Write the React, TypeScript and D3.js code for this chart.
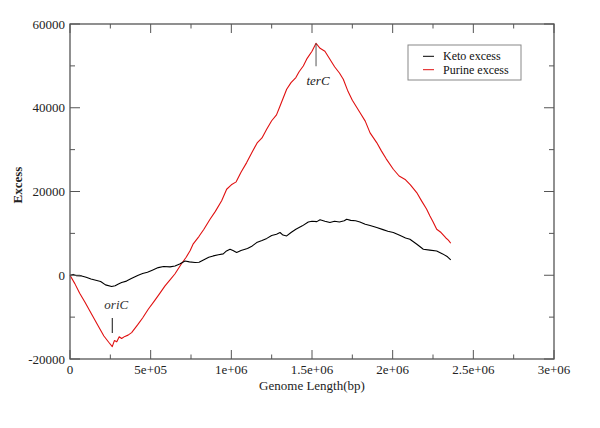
import React from "react";
import * as d3 from "d3";

const ketoX = [0,20000,40000,72000,100000,130000,160000,190000,220000,258000,280000,300000,320000,350000,380000,423000,450000,480000,510000,547000,580000,620000,651000,680000,713000,740000,775000,800000,830000,860000,888000,920000,950000,970000,992000,1010000,1033000,1060000,1100000,1130000,1157000,1190000,1220000,1250000,1280000,1302000,1320000,1343000,1370000,1400000,1440000,1477000,1500000,1530000,1550000,1580000,1611000,1640000,1670000,1700000,1715000,1740000,1770000,1797000,1830000,1860000,1901000,1940000,1970000,2004000,2040000,2080000,2107000,2150000,2190000,2230000,2273000,2310000,2340000,2360000];
const ketoY = [0,200,-100,-160,-500,-900,-1200,-1500,-2300,-2700,-2500,-2100,-1750,-1400,-800,0,400,700,1200,1830,2100,2000,2220,2700,3420,3200,3030,3100,3700,4300,4620,4900,5100,5800,6210,5900,5420,5900,6400,7000,7800,8300,8800,9500,9800,10200,9600,9390,10200,11000,11800,12730,12900,12800,13250,12900,12580,12900,12700,13000,13370,13100,13000,12730,12200,11900,11390,10900,10500,10200,9600,8900,8600,7400,6210,6000,5800,5100,4400,3650];

const purineX = [0,30000,60000,93000,130000,175000,210000,240000,262000,275000,290000,305000,320000,340000,360000,382000,420000,450000,485000,520000,550000,589000,620000,650000,692000,720000,745000,764000,800000,830000,868000,900000,940000,971000,1000000,1030000,1060000,1095000,1130000,1160000,1190000,1219000,1250000,1280000,1302000,1343000,1370000,1400000,1420000,1446000,1470000,1500000,1525000,1550000,1580000,1611000,1640000,1670000,1694000,1720000,1750000,1797000,1830000,1860000,1901000,1930000,1960000,2004000,2040000,2080000,2110000,2149000,2180000,2210000,2231000,2250000,2273000,2300000,2330000,2345000,2360000];
const purineY = [0,-2000,-4300,-6450,-9000,-12100,-14500,-16000,-17030,-15600,-15900,-14700,-15100,-14600,-14300,-13700,-11800,-10200,-8120,-6300,-4700,-2550,-1100,300,2800,4300,5900,7500,9300,11000,13370,15200,17800,20540,21600,22300,24600,26900,29500,31600,32800,34860,36900,38300,40430,44420,46000,47200,48600,49980,51800,53500,55400,54200,53500,51580,49800,48300,46800,44200,41800,38850,36800,34000,31680,29700,27800,25310,23700,22800,21600,19750,17700,15800,14160,12800,10990,10200,8900,8400,7640];

const xMajor = [0, 500000, 1000000, 1500000, 2000000, 2500000, 3000000];
const xMajorLabels = ["0", "5e+05", "1e+06", "1.5e+06", "2e+06", "2.5e+06", "3e+06"];
const xMinor = [250000, 750000, 1250000, 1750000, 2250000, 2750000];
const yMajor = [-20000, 0, 20000, 40000, 60000];
const yMajorLabels = ["-20000", "0", "20000", "40000", "60000"];
const yMinor = [-10000, 10000, 30000, 50000];

const seriesNames = ["Keto excess", "Purine excess"];
const seriesColors = ["#000000", "#e01010"];

export default function App() {
  const x = d3.scaleLinear().domain([0, 3000000]).range([70, 554]);
  const y = d3.scaleLinear().domain([-20000, 60000]).range([359, 24]);
  const line = d3.line<[number, number]>().x(d => x(d[0])).y(d => y(d[1]));
  const keto = ketoX.map((v, i) => [v, ketoY[i]] as [number, number]);
  const purine = purineX.map((v, i) => [v, purineY[i]] as [number, number]);
  const axisColor = "#555";
  const font = "'Liberation Serif', 'Times New Roman', serif";
  const [x0, x1] = x.range();
  const [y0, y1] = y.range();
  const terX = 1525000, terY = 55400;
  const oriX = 262000;
  return (
    <div style={{ position: "absolute", left: 0, top: 0 }}>
      <svg width={600} height={428} style={{ display: "block", background: "#fff" }} fontFamily={font}>
        <rect x={0} y={0} width={600} height={428} fill="#fff" />
        <path d={line(purine) || ""} fill="none" stroke={seriesColors[1]} strokeWidth={1.1} strokeLinejoin="round" />
        <path d={line(keto) || ""} fill="none" stroke={seriesColors[0]} strokeWidth={1.1} strokeLinejoin="round" />
        <rect x={x0} y={y1} width={x1 - x0} height={y0 - y1} fill="none" stroke={axisColor} strokeWidth={1.3} />
        {xMajor.map((v, i) => (
          <g key={"xm" + i}>
            <line x1={x(v)} x2={x(v)} y1={y0} y2={y0 - 9} stroke={axisColor} />
            <line x1={x(v)} x2={x(v)} y1={y1} y2={y1 + 9} stroke={axisColor} />
            <text x={x(v)} y={374} textAnchor="middle" fontSize={13} fill="#222">{xMajorLabels[i]}</text>
          </g>
        ))}
        {xMinor.map((v, i) => (
          <g key={"xn" + i}>
            <line x1={x(v)} x2={x(v)} y1={y0} y2={y0 - 4.5} stroke={axisColor} />
            <line x1={x(v)} x2={x(v)} y1={y1} y2={y1 + 4.5} stroke={axisColor} />
          </g>
        ))}
        {yMajor.map((v, i) => (
          <g key={"ym" + i}>
            <line x1={x0} x2={x0 + 10} y1={y(v)} y2={y(v)} stroke={axisColor} />
            <line x1={x1} x2={x1 - 10} y1={y(v)} y2={y(v)} stroke={axisColor} />
            <text x={65} y={y(v) + 4.5} textAnchor="end" fontSize={13} fill="#222">{yMajorLabels[i]}</text>
          </g>
        ))}
        {yMinor.map((v, i) => (
          <g key={"yn" + i}>
            <line x1={x0} x2={x0 + 5} y1={y(v)} y2={y(v)} stroke={axisColor} />
            <line x1={x1} x2={x1 - 5} y1={y(v)} y2={y(v)} stroke={axisColor} />
          </g>
        ))}
        <text x={312} y={390} textAnchor="middle" fontSize={13} fill="#222">Genome Length(bp)</text>
        <text transform="translate(22,185) rotate(-90)" textAnchor="middle" fontSize={13} fontWeight="bold" fill="#222">Excess</text>
        <line x1={x(terX)} x2={x(terX)} y1={y(terY)} y2={y(terY) + 23} stroke="#555" strokeWidth={1} />
        <text x={x(terX) + 2} y={85} textAnchor="middle" fontSize={13} fontStyle="italic" fill="#222">terC</text>
        <line x1={x(oriX)} x2={x(oriX)} y1={318} y2={333} stroke="#111" strokeWidth={1} />
        <text x={x(oriX) + 4} y={309} textAnchor="middle" fontSize={13} fontStyle="italic" fill="#333">oriC</text>
        <rect x={408} y={45} width={113} height={35} fill="#fff" stroke="#888" strokeWidth={1} />
        {seriesNames.map((n, i) => (
          <g key={"lg" + i}>
            <line x1={423} x2={434} y1={56.3 + i * 13.4} y2={56.3 + i * 13.4} stroke={seriesColors[i]} strokeWidth={1} />
            <text x={443} y={60.3 + i * 13.4} fontSize={12} fill="#111">{n}</text>
          </g>
        ))}
      </svg>
    </div>
  );
}
